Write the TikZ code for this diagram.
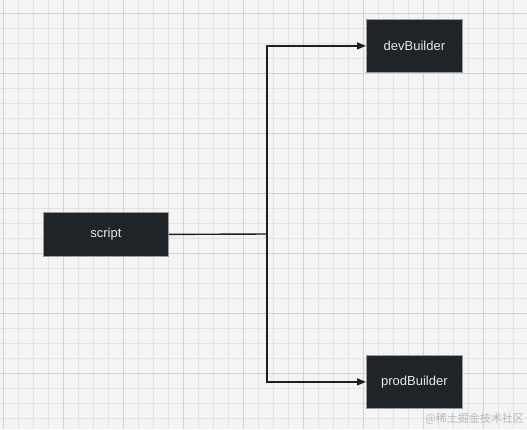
\documentclass[tikz,border=0pt]{standalone}
\usepackage{fontspec}
\setsansfont{Liberation Sans}
\newfontfamily\cjkfont{Noto Sans CJK SC}
\usetikzlibrary{arrows.meta}
\definecolor{bg}{HTML}{F4F4F4}
\definecolor{minorgrid}{HTML}{E2E2E2}
\definecolor{majorgrid}{HTML}{D2D2D2}
\definecolor{boxfill}{HTML}{1F2429}
\definecolor{boxline}{HTML}{9A9A9A}
\definecolor{boxtext}{HTML}{E8E8E8}
\definecolor{linkc}{HTML}{1E1E1E}
\definecolor{wmark}{HTML}{B8B8B8}
\begin{document}
\begin{tikzpicture}[x=1pt,y=-1pt,
  box/.style={draw=boxline, line width=0.8pt, fill=boxfill, text=boxtext, font=\sffamily\fontsize{13}{15}\selectfont, inner sep=0pt, anchor=north west},
  link/.style={draw=linkc, line width=1.4pt},
  tip/.style={-{Triangle[length=9pt,width=7pt]}}]
\useasboundingbox (0,0) rectangle (527,429);
\fill[bg] (0,0) rectangle (527,429);
\foreach \x in {3,18,...,527} \draw[minorgrid, line width=0.8pt] (\x,0) -- (\x,429);
\foreach \y in {13,28,...,429} \draw[minorgrid, line width=0.8pt] (0,\y) -- (527,\y);
\foreach \x in {3,63,...,527} \draw[majorgrid, line width=0.9pt] (\x,0) -- (\x,429);
\foreach \y in {13,73,...,429} \draw[majorgrid, line width=0.9pt] (0,\y) -- (527,\y);
\node[box, minimum width=125pt, minimum height=44pt] (script) at (43,212) {script};
\node[box, minimum width=96pt, minimum height=53pt] (dev) at (366,19) {devBuilder};
\node[box, minimum width=96pt, minimum height=53pt] (prod) at (366,355) {prodBuilder};
\coordinate (fork) at (267,234);
\draw[link] (script.east) -- (fork);
\draw[link, tip] (fork) |- (dev.west);
\draw[link, tip] (fork) |- (prod.west);
\node[text=wmark, font=\cjkfont\fontsize{11}{13}\selectfont, anchor=east, inner sep=0pt] (wm) at (524,419) {@稀土掘金技术社区};
\end{tikzpicture}
\end{document}
